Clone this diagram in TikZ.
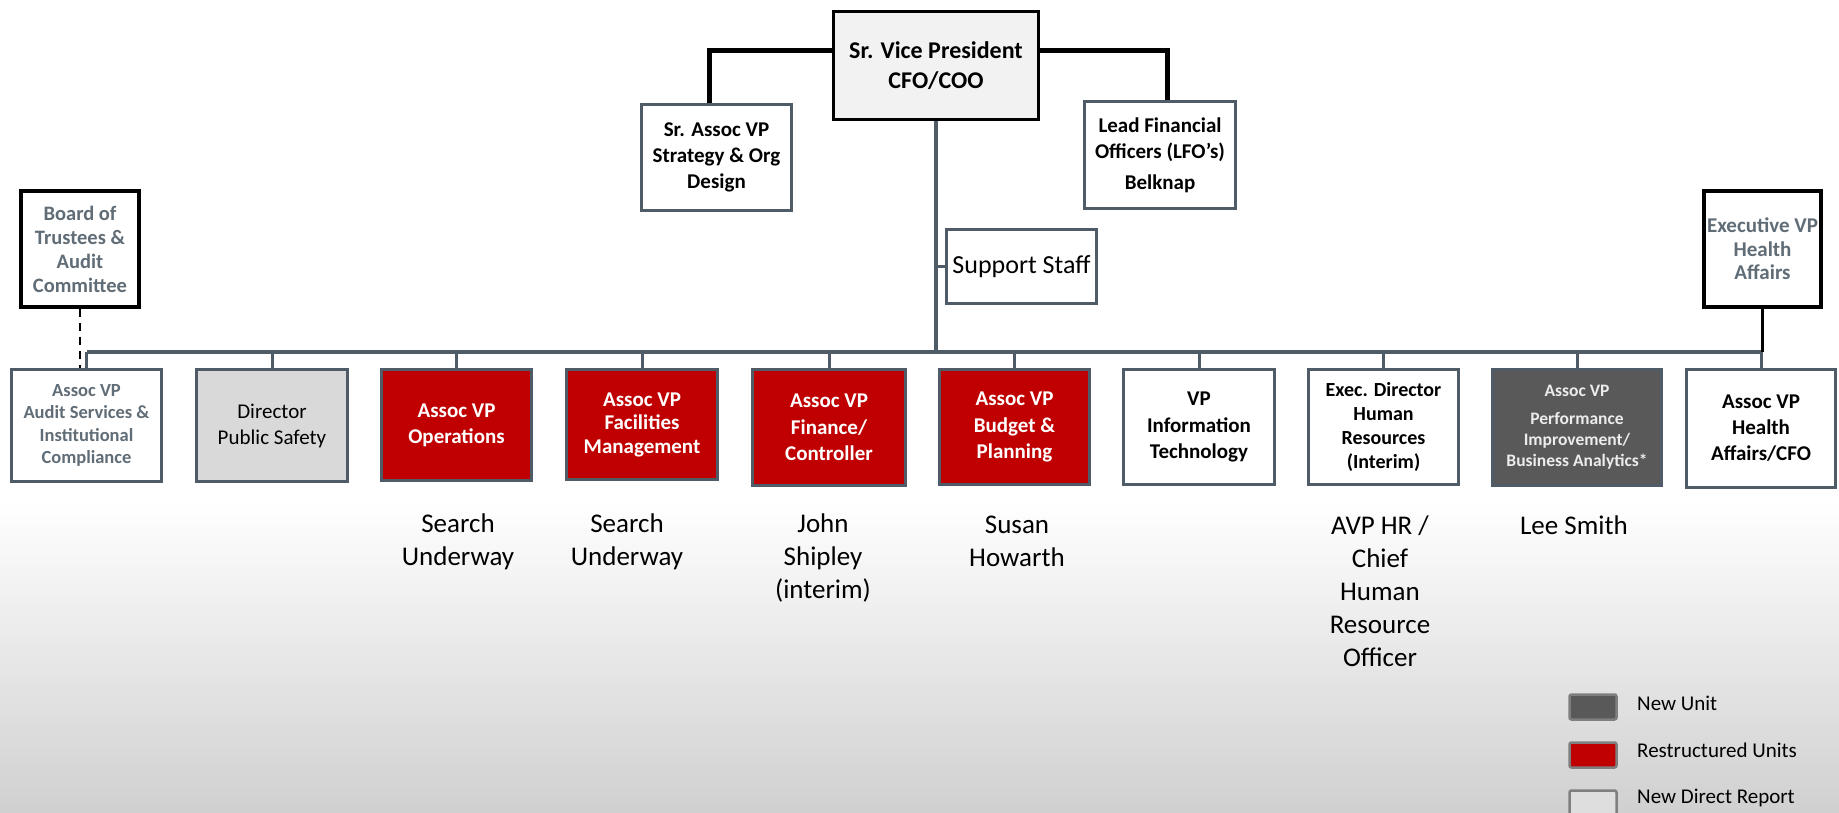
\documentclass[tikz,border=0pt]{standalone}
\usepackage{fontspec}
\setmainfont{Carlito}
\definecolor{slate}{RGB}{79,91,102}
\definecolor{slatetext}{RGB}{96,108,118}
\definecolor{orgred}{RGB}{192,0,0}
\definecolor{newgray}{RGB}{89,89,89}
\definecolor{dpsgray}{RGB}{217,217,217}
\definecolor{svpfill}{RGB}{242,242,242}
\definecolor{bgbottom}{RGB}{208,208,208}
\definecolor{legborder}{RGB}{127,127,127}
\definecolor{legfill}{RGB}{222,222,222}
\tikzset{
  wh/.style 2 args={minimum width=#1, minimum height=#2},
  orgbox/.style={draw=slate, line width=3pt, fill=white, inner sep=0pt, align=center,
    font=\bfseries\fontsize{21}{26}\selectfont},
  blackbox/.style={orgbox, draw=black, line width=3.5pt},
  redbox/.style={orgbox, fill=orgred, text=white},
  namelabel/.style={align=center, inner sep=0pt, font=\fontsize{27}{33}\selectfont},
  legswatch/.style={draw=legborder, line width=2.5pt, rounded corners=2pt, inner sep=0pt,
    minimum width=47pt, minimum height=25pt},
  legtext/.style={anchor=west, inner sep=0pt, font=\fontsize{21}{25}\selectfont},
  blackline/.style={draw=black, line width=5pt},
  execline/.style={draw=black, line width=3.5pt},
  busline/.style={draw=slate, line width=3.5pt},
  dropline/.style={draw=slate, line width=3pt},
  dashline/.style={draw=black, line width=1.5pt, dash pattern=on 8pt off 6pt}
}
\begin{document}
\begin{tikzpicture}[x=1pt,y=-1pt]
% background
\useasboundingbox (0,0) rectangle (1839,812);
\fill[white] (0,0) rectangle (1839,500);
\shade[top color=white, bottom color=bgbottom] (0,500) rectangle (1839,812);

% top level
\node[blackbox, fill=svpfill, wh={205pt}{108pt}, font=\bfseries\fontsize{24}{30}\selectfont] (svp) at (936,65.5) {Sr. Vice President\\CFO/COO};
\node[orgbox, wh={150pt}{106pt}] (sravp) at (716.5,157.5) {Sr. Assoc VP\\Strategy \& Org\\Design};
\node[orgbox, wh={151pt}{107pt}] (lead) at (1160,155) {Lead Financial\\Officers (LFO’s)\\[5pt]Belknap};
\node[orgbox, wh={150pt}{74pt}, font=\fontsize{26}{30}\selectfont] (support) at (1021.5,266.5) {Support Staff};
\node[blackbox, wh={118pt}{116pt}, text=slatetext, font=\bfseries\fontsize{20.5}{24}\selectfont] (board) at (80,249) {Board of\\Trustees \&\\Audit\\Committee};
\node[blackbox, wh={117pt}{116pt}, text=slatetext, font=\bfseries\fontsize{21}{23.5}\selectfont] (execvp) at (1762.5,249) {Executive VP\\Health\\Affairs};

% bottom row
\node[orgbox, wh={150pt}{112pt}, text=slatetext, font=\bfseries\fontsize{18.5}{22.5}\selectfont] (audit) at (86.5,425.5) {Assoc VP\\Audit Services \&\\Institutional\\Compliance};
\node[orgbox, fill=dpsgray, wh={151pt}{112pt}, font=\fontsize{21}{26}\selectfont] (dps) at (272,425.5) {Director\\Public Safety};
\node[redbox, wh={150pt}{111pt}] (ops) at (456.5,425) {Assoc VP\\Operations};
\node[redbox, wh={151pt}{110pt}, font=\bfseries\fontsize{21}{23.5}\selectfont] (fac) at (642,424.5) {Assoc VP\\Facilities\\Management};
\node[redbox, wh={153pt}{116pt}, font=\bfseries\fontsize{21}{26.5}\selectfont] (fin) at (829,427.5) {Assoc VP\\Finance/\\Controller};
\node[redbox, wh={150pt}{115pt}, font=\bfseries\fontsize{21}{26.5}\selectfont] (bud) at (1014.5,427) {Assoc VP\\Budget \&\\Planning};
\node[orgbox, wh={151pt}{115pt}, font=\bfseries\fontsize{21}{26.5}\selectfont] (it) at (1199,427) {VP\\Information\\Technology};
\node[orgbox, wh={150pt}{115pt}, font=\bfseries\fontsize{20}{24.3}\selectfont] (hr) at (1383.5,427) {Exec. Director\\Human\\Resources\\(Interim)};
\node[orgbox, fill=newgray, wh={169pt}{116pt}, text={rgb,255:red,236;green,236;blue,236}, font=\bfseries\fontsize{17.5}{21}\selectfont] (perf) at (1577,427.5) {Assoc VP\\[7pt]Performance\\Improvement/\\Business Analytics*};
\node[orgbox, wh={149pt}{118pt}, font=\bfseries\fontsize{21}{26}\selectfont] (hcfo) at (1761,428.5) {Assoc VP\\Health\\Affairs/CFO};

% connectors
\coordinate (busL) at (87,352);
\coordinate (busR) at (1761,352);
\draw[blackline] ([yshift=15.5pt]svp.west) -| ([xshift=-7.5pt]sravp.north);
\draw[blackline] ([yshift=15.5pt]svp.east) -| ([xshift=7pt]lead.north);
\draw[busline] (svp.south) -- (svp.south |- busL);
\draw[busline] (svp.south |- support.west) -- (support.west);
\draw[busline] (busL) -- (busR);
\foreach \b in {audit,dps,ops,fac,fin,bud,it,hr,perf,hcfo}
  \draw[dropline] (\b.north |- busL) -- (\b.north);
\draw[dashline] (board.south) -- (board.south |- audit.north);
\draw[execline] (execvp.south) -- (execvp.south |- busR);

% names
\node[namelabel] (n1) at (458,541.5) {Search\\Underway};
\node[namelabel] (n2) at (627,541.5) {Search\\Underway};
\node[namelabel] (n3) at (823,558) {John\\Shipley\\(interim)};
\node[namelabel] (n4) at (1017,541.5) {Susan\\Howarth};
\node[namelabel] (n5) at (1380,591.5) {AVP HR /\\Chief\\Human\\Resource\\Officer};
\node[namelabel] (n6) at (1574,525) {Lee Smith};

% legend
\node[legswatch, fill=newgray] (l1) at (1593,707) {};
\node[legswatch, fill=orgred] (l2) at (1593,755) {};
\node[legswatch, fill=legfill] (l3) at (1593,803) {};
\node[legtext] (t1) at (1637,703) {New Unit};
\node[legtext] (t2) at (1637,750) {Restructured Units};
\node[legtext] (t3) at (1637,798) {New Direct Report};
\end{tikzpicture}
\end{document}
